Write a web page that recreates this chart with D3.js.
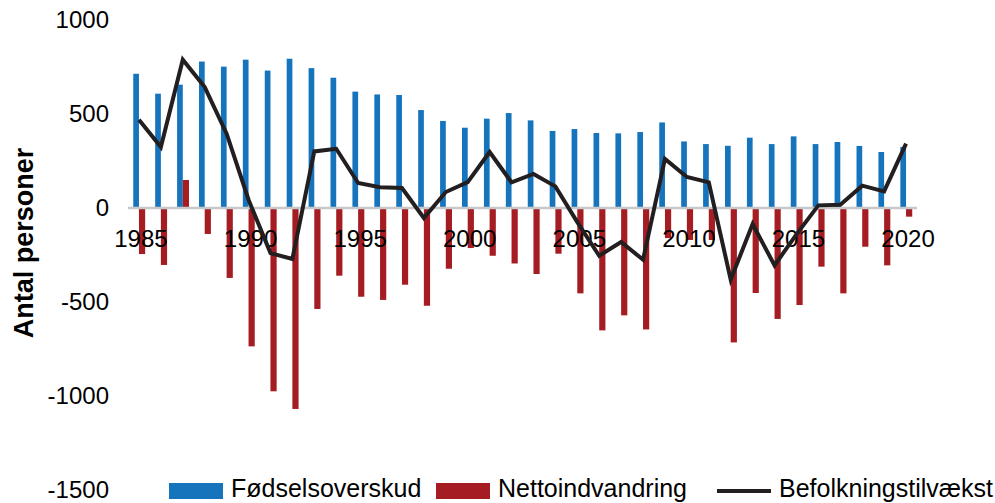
<!DOCTYPE html>
<html>
<head>
<meta charset="utf-8">
<script src="https://cdn.jsdelivr.net/npm/d3@7"></script>
<style>
  html, body { margin: 0; padding: 0; background: #fff; }
  svg { display: block; font-family: "Liberation Sans", Arial, Helvetica, sans-serif; }
</style>
</head>
<body>
<svg id="chart" width="995" height="503"></svg>
<script>
const years = [1985,1986,1987,1988,1989,1990,1991,1992,1993,1994,
  1995,1996,1997,1998,1999,2000,2001,2002,2003,2004,2005,
  2006,2007,2008,2009,2010,2011,2012,2013,2014,2015,
  2016,2017,2018,2019,2020];
const fodselsoverskud = [714,608,656,779,752,789,731,794,744,693,
  619,604,601,521,463,427,475,505,466,410,420,
  399,397,404,455,354,340,331,374,340,381,
  340,351,330,298,325];
const nettoindvandring = [-245,-303,149,-138,-372,-736,-975,-1069,-537,-360,
  -472,-489,-408,-520,-323,-213,-254,-295,-351,-243,-454,
  -651,-571,-646,-160,-170,-170,-715,-452,-590,-516,
  -312,-454,-206,-305,-46];
const befolkningstilvaekst = [470,324,789,643,395,44,-240,-271,301,315,
  133,110,106,-53,85,138,298,136,181,115,-75,
  -254,-181,-275,261,165,136,-381,-85,-305,-140,
  14,17,119,88,342];
const yTicks = [-1500,-1000,-500,0,500,1000];
const xTicks = [1985,1990,1995,2000,2005,2010,2015,2020];
const seriesNames = ["Fødselsoverskud","Nettoindvandring","Befolkningstilvækst"];
const yTitle = "Antal personer";

const colBlue = "#1674bd", colRed = "#a51d23", colLine = "#231f20";

const svg = d3.select("#chart");
const x = d3.scaleBand().domain(years).range([128, 917]).padding(0);
const y = d3.scaleLinear().domain([-1500, 1000]).range([490, 20]);
const bw = x.bandwidth();
const barW = bw * 0.26;
const cx = d => x(d) + bw / 2;

// bars
svg.append("g").selectAll("rect").data(years).join("rect")
  .attr("x", (d) => cx(d) - barW)
  .attr("width", barW)
  .attr("y", (d, i) => Math.min(y(0), y(fodselsoverskud[i])))
  .attr("height", (d, i) => Math.abs(y(fodselsoverskud[i]) - y(0)))
  .attr("fill", colBlue);
svg.append("g").selectAll("rect").data(years).join("rect")
  .attr("x", (d) => cx(d))
  .attr("width", barW + 0.5)
  .attr("y", (d, i) => Math.min(y(0), y(nettoindvandring[i])))
  .attr("height", (d, i) => Math.abs(y(nettoindvandring[i]) - y(0)))
  .attr("fill", colRed);

// zero line
svg.append("line")
  .attr("x1", x.range()[0]).attr("x2", x.range()[1])
  .attr("y1", y(0)).attr("y2", y(0))
  .attr("stroke", "#c6c8ca").attr("stroke-width", 2.5);

// y axis
const yAxis = d3.axisLeft(y).tickValues(yTicks).tickSize(0).tickPadding(0).tickFormat(d => String(d));
const gy = svg.append("g").attr("transform", "translate(109,0)").call(yAxis);
gy.select(".domain").remove();
gy.selectAll("text").attr("font-size", 24).attr("fill", "#000")
  .attr("font-family", "Liberation Sans, Arial, sans-serif");

// x axis labels
const xAxis = d3.axisBottom(x).tickValues(xTicks).tickSize(0).tickPadding(22).tickFormat(d => String(d));
const gx = svg.append("g").attr("transform", `translate(0,${y(0)})`).call(xAxis);
gx.select(".domain").remove();
gx.selectAll("text").attr("font-size", 24).attr("fill", "#000").attr("dx", 2)
  .attr("font-family", "Liberation Sans, Arial, sans-serif");

// line
const line = d3.line().x((d, i) => cx(years[i])).y(d => y(d));
svg.append("path").datum(befolkningstilvaekst)
  .attr("d", line).attr("fill", "none")
  .attr("stroke", colLine).attr("stroke-width", 4).attr("stroke-linejoin", "miter");

// y title
svg.append("text")
  .attr("transform", "translate(33,243) rotate(-90)")
  .attr("text-anchor", "middle")
  .attr("font-size", 27).attr("font-weight", "bold").attr("fill", "#000")
  .text(yTitle);

// legend
const legendX = [169, 436, 717];
const lg = svg.append("g");
seriesNames.forEach((name, i) => {
  const lx = legendX[i];
  if (i < 2) {
    lg.append("rect").attr("x", lx).attr("y", 483).attr("width", 54).attr("height", 16)
      .attr("fill", i === 0 ? colBlue : colRed);
  } else {
    lg.append("line").attr("x1", lx).attr("x2", lx + 54).attr("y1", 491).attr("y2", 491)
      .attr("stroke", colLine).attr("stroke-width", 4);
  }
  lg.append("text").attr("x", lx + 62).attr("y", 497)
    .attr("font-size", 25).attr("fill", "#000").text(name);
});
</script>
</body>
</html>
